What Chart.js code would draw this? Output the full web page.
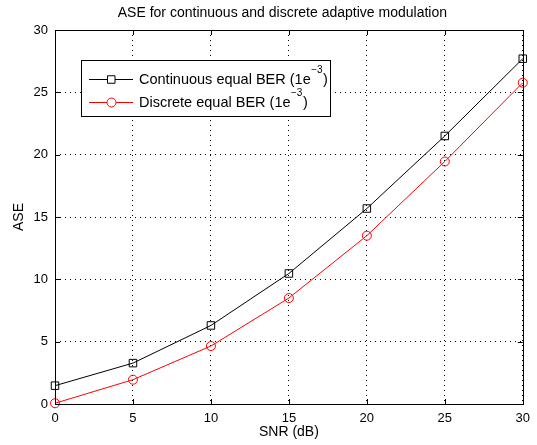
<!DOCTYPE html>
<html>
<head>
<meta charset="utf-8">
<script src="https://cdn.jsdelivr.net/npm/chart.js@4/dist/chart.umd.min.js"></script>
<style>
html,body{margin:0;padding:0;background:#fff;}
#wrap{width:537px;height:445px;position:relative;}
</style>
</head>
<body>
<div id="wrap"><canvas id="c" width="537" height="445"></canvas></div>
<script>
const snr = [0, 5, 10, 15, 20, 25, 30];
const continuousASE = [1.47, 3.28, 6.3, 10.47, 15.68, 21.5, 27.7];
const discreteASE = [0.06, 1.95, 4.65, 8.5, 13.5, 19.45, 25.77];
const xTicks = [0, 5, 10, 15, 20, 25, 30];
const yTicks = [0, 5, 10, 15, 20, 25, 30];
const seriesNames = ['Continuous equal BER (1e', 'Discrete equal BER (1e'];
const superscript = '\u22123';
const titleText = 'ASE for continuous and discrete adaptive modulation';
const FONT = 'Liberation Sans, Arial, Helvetica, sans-serif';

const boxPlugin = {
  id: 'matlabBox',
  afterDatasetsDraw(chart) {
    const {ctx, chartArea: a, scales} = chart;
    ctx.save();
    ctx.strokeStyle = '#000';
    ctx.lineWidth = 1;
    ctx.setLineDash([]);
    ctx.strokeRect(Math.round(a.left) + 0.5, Math.round(a.top) + 0.5, Math.round(a.right - a.left), Math.round(a.bottom - a.top));
    const tl = 5;
    ctx.beginPath();
    xTicks.forEach(v => {
      const x = Math.round(scales.x.getPixelForValue(v)) + 0.5;
      ctx.moveTo(x, a.bottom); ctx.lineTo(x, a.bottom - tl);
      ctx.moveTo(x, a.top); ctx.lineTo(x, a.top + tl);
    });
    yTicks.forEach(v => {
      const y = Math.round(scales.y.getPixelForValue(v)) + 0.5;
      ctx.moveTo(a.left, y); ctx.lineTo(a.left + tl, y);
      ctx.moveTo(a.right, y); ctx.lineTo(a.right - tl, y);
    });
    ctx.stroke();
    ctx.restore();
  },
  afterDraw(chart) {
    const {ctx, chartArea: a} = chart;
    ctx.save();
    // title
    ctx.fillStyle = '#000';
    ctx.font = '14px ' + FONT;
    ctx.textAlign = 'center';
    ctx.textBaseline = 'middle';
    ctx.fillText(titleText, (a.left + a.right) / 2 - 6.5, 13.5);
    // legend
    const bx = 81.5, by = 60.5, bw = 249, bh = 56;
    ctx.fillStyle = '#fff';
    ctx.fillRect(bx, by, bw, bh);
    ctx.strokeStyle = '#000';
    ctx.lineWidth = 1;
    ctx.strokeRect(bx, by, bw, bh);
    const rows = [79, 102];
    chart.data.datasets.forEach((ds, i) => {
      const y = rows[i] + 0.5;
      ctx.strokeStyle = ds.borderColor;
      ctx.lineWidth = 1;
      ctx.beginPath();
      ctx.moveTo(89, y); ctx.lineTo(133, y);
      ctx.stroke();
      ctx.beginPath();
      if (ds.pointStyle === 'rect') {
        ctx.rect(107.5, y - 3.75, 7.5, 7.5);
        ctx.fillStyle = '#fff';
        ctx.fill();
      } else {
        ctx.arc(111.5, y, 4.5, 0, Math.PI * 2);
        ctx.fillStyle = '#fff';
        ctx.fill();
      }
      ctx.stroke();
      ctx.fillStyle = '#000';
      ctx.font = '14.5px ' + FONT;
      ctx.textBaseline = 'alphabetic';
      ctx.textAlign = 'left';
      const baseline = rows[i] + 5.3;
      ctx.fillText(seriesNames[i], 139, baseline);
      let x = 139 + ctx.measureText(seriesNames[i]).width + 0.5;
      ctx.font = '10px ' + FONT;
      ctx.fillText(superscript, x, baseline - 11.5);
      x += ctx.measureText(superscript).width + 0.5;
      ctx.font = '14.5px ' + FONT;
      ctx.fillText(')', x, baseline);
    });
    ctx.restore();
  }
};

new Chart(document.getElementById('c'), {
  type: 'line',
  data: {
    datasets: [
      {
        label: seriesNames[0],
        data: snr.map((x, i) => ({x, y: continuousASE[i]})),
        borderColor: '#000',
        backgroundColor: 'rgba(0,0,0,0)',
        borderWidth: 1,
        pointStyle: 'rect',
        pointRadius: 5.3,
        pointBorderWidth: 1,
        pointBackgroundColor: 'rgba(0,0,0,0)',
        pointBorderColor: '#000',
        tension: 0,
        clip: false
      },
      {
        label: seriesNames[1],
        data: snr.map((x, i) => ({x, y: discreteASE[i]})),
        borderColor: '#ff0000',
        backgroundColor: 'rgba(0,0,0,0)',
        borderWidth: 1,
        pointStyle: 'circle',
        pointRadius: 4.5,
        pointBorderWidth: 1,
        pointBackgroundColor: 'rgba(0,0,0,0)',
        pointBorderColor: '#ff0000',
        tension: 0,
        clip: false
      }
    ]
  },
  plugins: [boxPlugin],
  options: {
    responsive: false,
    animation: false,
    devicePixelRatio: 1,
    layout: {padding: {top: 30, right: 9, left: 0, bottom: 0}},
    plugins: {
      legend: {display: false},
      tooltip: {enabled: false},
      title: {display: false}
    },
    scales: {
      x: {
        type: 'linear',
        min: 0, max: 30,
        afterFit(s) { s.height = 41; },
        afterBuildTicks(s) { s.ticks = xTicks.map(v => ({value: v})); },
        ticks: {color: '#000', font: {family: FONT, size: 13}, padding: 7, maxRotation: 0, autoSkip: false},
        grid: {color: '#000', lineWidth: 1, drawTicks: false},
        border: {display: false, dash: [1, 4]},
        title: {display: true, text: 'SNR (dB)', color: '#000', font: {family: FONT, size: 14}, padding: {top: 0, bottom: 4.1}}
      },
      y: {
        type: 'linear',
        min: 0, max: 30,
        afterFit(s) { s.width = 55; },
        afterBuildTicks(s) { s.ticks = yTicks.map(v => ({value: v})); },
        ticks: {color: '#000', font: {family: FONT, size: 13}, padding: 7, autoSkip: false},
        grid: {color: '#000', lineWidth: 1, drawTicks: false},
        border: {display: false, dash: [1, 4]},
        title: {display: true, text: 'ASE', color: '#000', font: {family: FONT, size: 14}, padding: {top: 10.6, bottom: 0}}
      }
    }
  }
});
</script>
</body>
</html>
